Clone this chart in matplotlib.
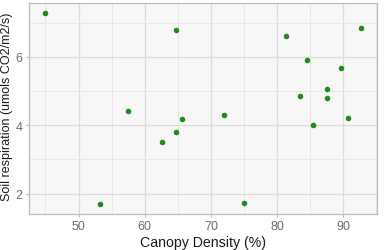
import matplotlib
matplotlib.use("Agg")
import matplotlib.pyplot as plt
from matplotlib.ticker import MultipleLocator

canopy_density = [44.9, 53.2, 57.4, 62.6, 64.7, 64.7, 65.7, 72.0, 75.0,
                  81.3, 83.4, 84.5, 85.4, 87.6, 87.6, 89.6, 90.7, 92.7]
soil_respiration = [7.30, 1.69, 4.42, 3.52, 3.79, 6.78, 4.17, 4.31, 1.71,
                    6.61, 4.86, 5.92, 4.01, 5.07, 4.80, 5.68, 4.21, 6.84]
x_ticks = [50, 60, 70, 80, 90]
y_ticks = [2, 4, 6]

plt.rcParams['font.family'] = ['Liberation Sans', 'DejaVu Sans']

fig = plt.figure(figsize=(3.84, 2.51), dpi=100)
ax = fig.add_axes([29/384, 1 - 214.7/251, (377 - 29)/384, (214.7 - 4)/251])
ax.set_facecolor('#F7F7F7')

ax.scatter(canopy_density, soil_respiration, s=16, color='#1E8C1E', zorder=3, linewidths=0)

ax.margins(0.05)
ax.set_xticks(x_ticks)
ax.set_yticks(y_ticks)
ax.xaxis.set_minor_locator(MultipleLocator(5))
ax.yaxis.set_minor_locator(MultipleLocator(1))
ax.grid(which='major', color='#DCDCDC', linewidth=0.9, zorder=0)
ax.grid(which='minor', color='#E6E6E6', linewidth=0.6, zorder=0)
ax.set_axisbelow(True)
for sp in ax.spines.values():
    sp.set_color('#BDBDBD')
    sp.set_linewidth(0.9)
ax.tick_params(which='major', length=2.5, width=0.8, color='#BDBDBD',
               labelcolor='#6E6E6E', labelsize=9, pad=2)
ax.tick_params(which='minor', length=0)
ax.set_xlabel('Canopy Density (%)', fontsize=10.2, color='#1A1A1A', labelpad=2)
ax.set_ylabel('Soil respiration (umols CO2/m2/s)', fontsize=9.0, color='#1A1A1A')
ax.yaxis.set_label_coords(-0.045, 0.513)

fig.savefig('out.png', dpi=100)
